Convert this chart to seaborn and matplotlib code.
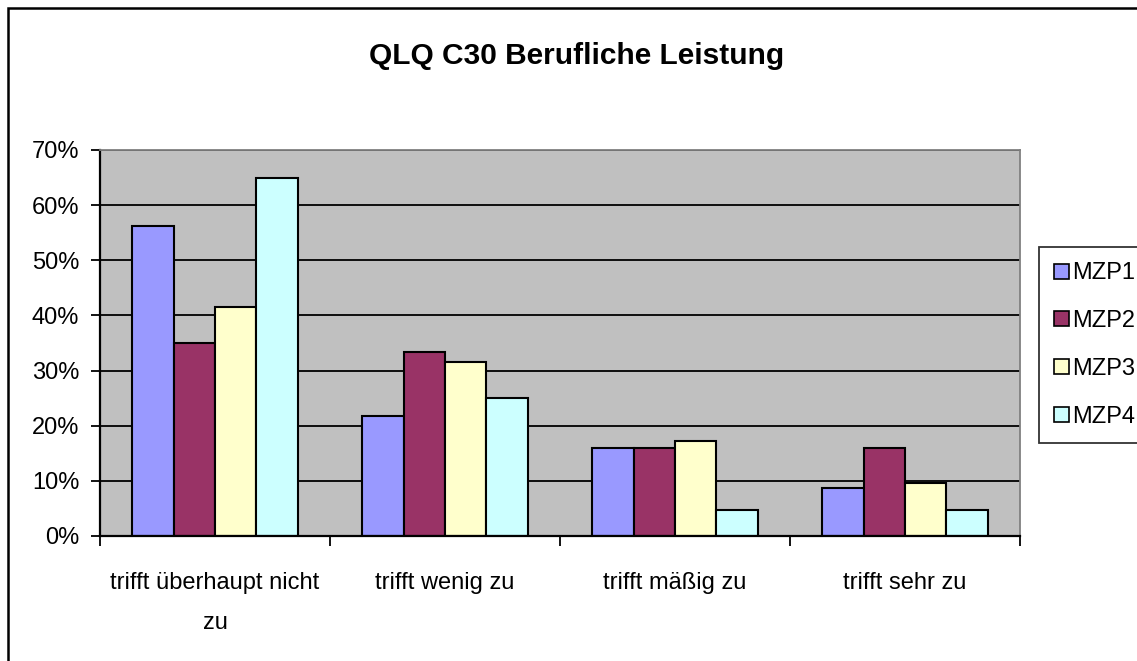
import pandas as pd
import matplotlib.pyplot as plt
import matplotlib.patches as mpatches
from matplotlib.ticker import FixedLocator, PercentFormatter
import seaborn as sns

# Dados
categorias = ['trifft überhaupt nicht\nzu', 'trifft wenig zu', 'trifft mäßig zu', 'trifft sehr zu']
series = ['MZP1', 'MZP2', 'MZP3', 'MZP4']
mzp1 = [0.563, 0.218, 0.160, 0.087]
mzp2 = [0.350, 0.333, 0.160, 0.160]
mzp3 = [0.415, 0.316, 0.172, 0.097]
mzp4 = [0.650, 0.250, 0.048, 0.048]
cores = ['#9999FF', '#993366', '#FFFFCC', '#CCFFFF']

df = pd.DataFrame({'Kategorie': categorias * 4,
                   'Serie': [s for s in series for _ in categorias],
                   'Wert': mzp1 + mzp2 + mzp3 + mzp4})

sns.set_style('white')
plt.rcParams['font.family'] = ['Liberation Sans', 'DejaVu Sans']
plt.rcParams['text.color'] = 'black'
plt.rcParams['xtick.color'] = 'black'
plt.rcParams['ytick.color'] = 'black'
plt.rcParams['xtick.labelcolor'] = 'black'
plt.rcParams['ytick.labelcolor'] = 'black'

W, H = 1137, 661
fig = plt.figure(figsize=(W / 100, H / 100), dpi=100)
ax = fig.add_axes([100 / W, (H - 536) / H, 920 / W, 386 / H])
ax.set_facecolor('#C0C0C0')

sns.barplot(data=df, x='Kategorie', y='Wert', hue='Serie', hue_order=series,
            order=categorias, palette=dict(zip(series, cores)), width=0.72,
            gap=0, edgecolor='black', linewidth=1.5, saturation=1,
            legend=False, ax=ax)

ax.set_ylim(0, 0.7)
ax.set_xlim(-0.5, 3.5)
ax.set_yticks([i / 10 for i in range(8)])
ax.yaxis.set_major_formatter(PercentFormatter(1.0, decimals=0))
ax.yaxis.grid(True, color='black', linewidth=1.3)
ax.set_axisbelow(True)
ax.tick_params(axis='y', direction='out', length=6.5, width=1.3, labelsize=17, pad=8.5, left=True)
ax.tick_params(axis='x', which='major', length=0, labelsize=17, pad=26)
ax.xaxis.set_minor_locator(FixedLocator([-0.5, 0.5, 1.5, 2.5, 3.5]))
ax.tick_params(axis='x', which='minor', direction='out', length=7, width=1.3, bottom=True)
for lbl in ax.get_xticklabels():
    lbl.set_linespacing(2.08)
    lbl.set_va('top')
ax.set_xlabel('')
ax.set_ylabel('')

for lado in ['left', 'bottom']:
    ax.spines[lado].set_color('black')
    ax.spines[lado].set_linewidth(1.6)
for lado in ['top', 'right']:
    ax.spines[lado].set_color('#808080')
    ax.spines[lado].set_linewidth(1.3)

fig.text(577 / W, 1 - 56 / H, 'QLQ C30 Berufliche Leistung', ha='center', va='center',
         fontsize=21.5, fontweight='bold')

# Legenda
handles = [mpatches.Patch(facecolor=c, edgecolor='black', linewidth=1.2, label=s)
           for s, c in zip(series, cores)]
leg = fig.legend(handles=handles, loc='upper left', bbox_to_anchor=(1039 / W, 1 - 247 / H),
                 bbox_transform=fig.transFigure, fontsize=17, frameon=True, fancybox=False,
                 handlelength=0.6, handleheight=0.6, handletextpad=0.15, labelspacing=1.09,
                 borderpad=0.65, borderaxespad=0)
leg.get_frame().set_edgecolor('black')
leg.get_frame().set_linewidth(1.3)

# Moldura do gráfico
fig.add_artist(mpatches.Rectangle((8 / W, -0.1), 1.2, 1.1 - 8 / H, transform=fig.transFigure,
                                  fill=False, edgecolor='black', linewidth=1.8, clip_on=False))

plt.savefig('out.png', dpi=100)
